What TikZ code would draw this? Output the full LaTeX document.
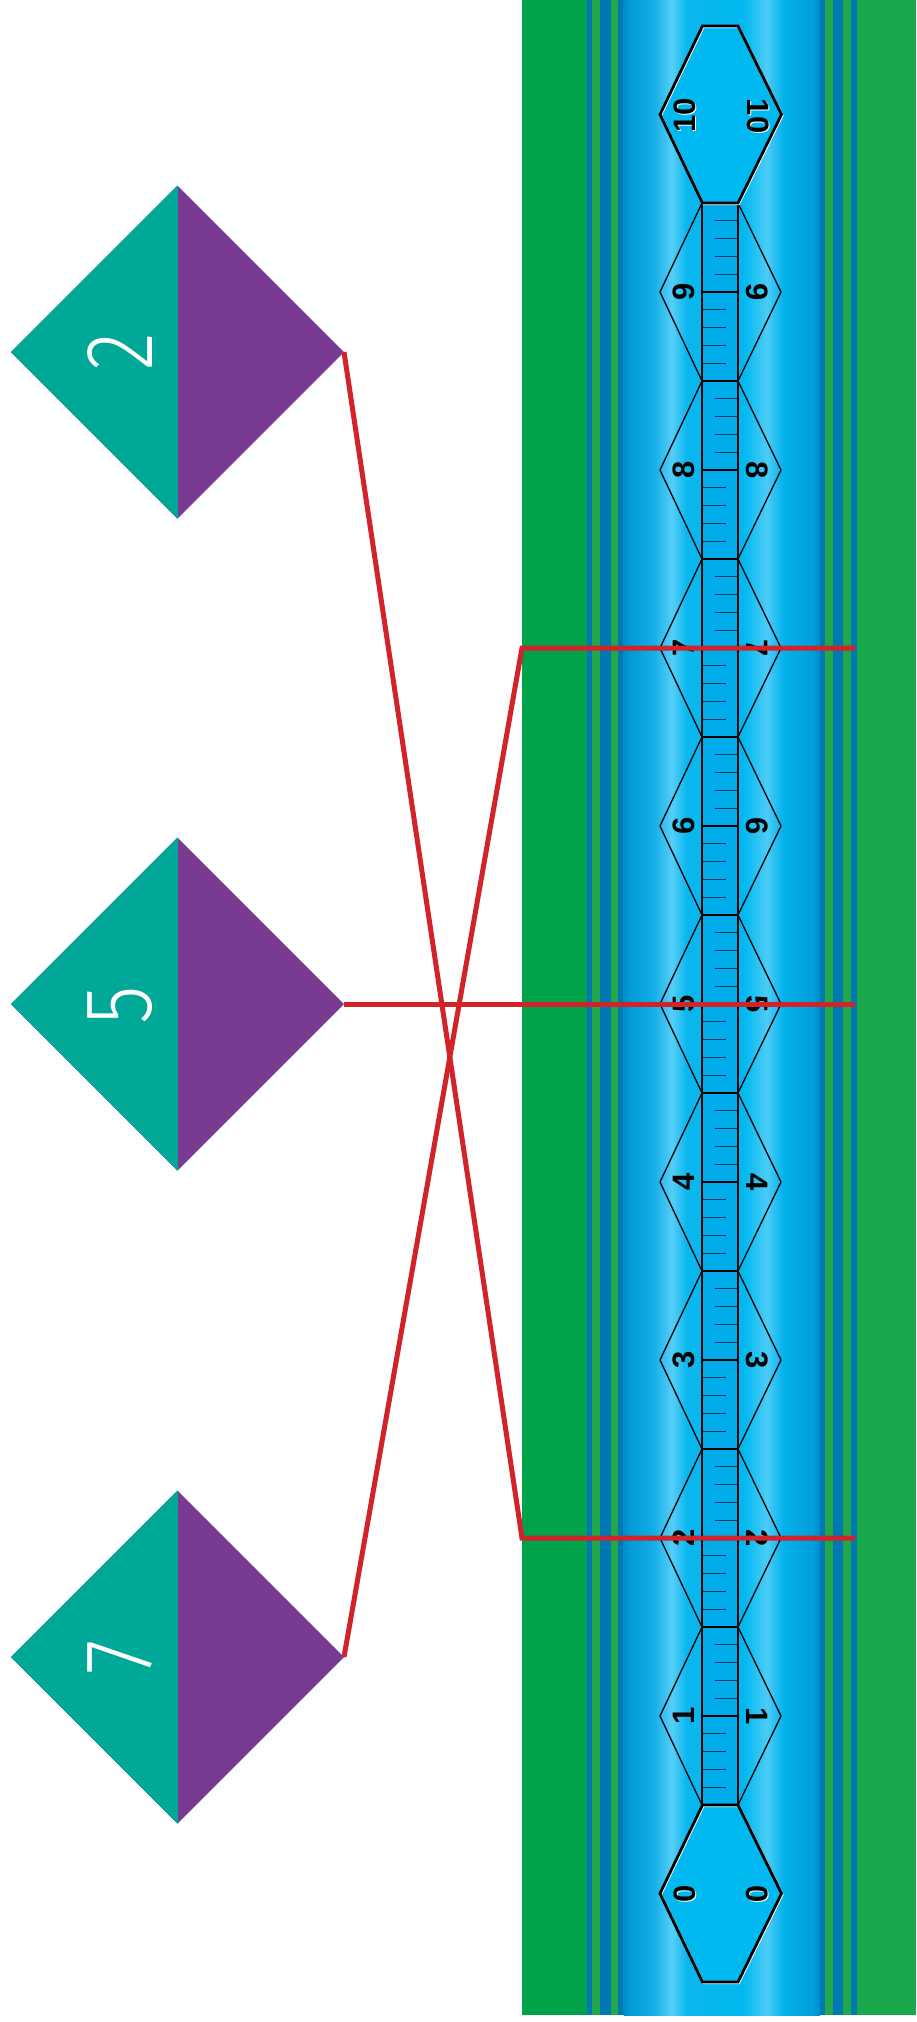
\documentclass[tikz,border=0pt]{standalone}
\usepackage{fontspec}
\setmainfont{Liberation Sans}
\newfontfamily\handfont{Fira Sans Light}
\usetikzlibrary{shapes.geometric}
\definecolor{gL}{RGB}{0,163,73}
\definecolor{gR}{RGB}{24,167,74}
\definecolor{gS}{RGB}{34,168,74}
\definecolor{bS}{RGB}{0,120,180}
\definecolor{tealc}{RGB}{0,168,152}
\definecolor{purp}{RGB}{121,59,145}
\definecolor{redl}{RGB}{210,35,42}
\definecolor{rulerfill}{RGB}{0,172,234}
\definecolor{hexfill}{RGB}{0,185,240}
\definecolor{tickc}{RGB}{15,55,85}
\definecolor{tA}{RGB}{0,139,200}
\definecolor{tB}{RGB}{0,152,214}
\definecolor{tC}{RGB}{20,174,230}
\definecolor{tD}{RGB}{85,206,247}
\definecolor{tE}{RGB}{10,183,238}
\definecolor{tF}{RGB}{0,184,240}
\definecolor{tG}{RGB}{75,204,246}
\definecolor{tH}{RGB}{5,178,236}
\definecolor{tI}{RGB}{0,158,220}
\definecolor{tJ}{RGB}{0,140,205}
\pgfdeclarehorizontalshading{tubeshade}{100bp}{color(0bp)=(tA); color(25bp)=(tA); color(26.3bp)=(tB); color(32.6bp)=(tC); color(37.3bp)=(tD); color(41bp)=(tE); color(55.5bp)=(tF); color(61.5bp)=(tG); color(65.6bp)=(tH); color(73.2bp)=(tI); color(75bp)=(tJ); color(100bp)=(tJ)}
\begin{document}
\begin{tikzpicture}[x=1pt,y=-1pt,
  redline/.style={draw=redl, line width=5pt, line join=miter},
  seglabel/.style={font=\bfseries\fontsize{31}{31}\selectfont, inner sep=0pt, text=black},
  handlabel/.style={font=\handfont\fontsize{96}{96}\selectfont, text=white, inner sep=0pt, rotate=90},
  dia/.style={diamond, draw=none, inner sep=0pt, outer sep=0pt, minimum width=333pt, minimum height=333pt, fill=purp,
    path picture={\fill[tealc] (path picture bounding box.south west) rectangle (path picture bounding box.north);}},
  minortick/.style={draw=tickc, line width=1.2pt},
  hexline/.style={draw=black, line width=1.3pt},
  endhex/.style={draw=black, line width=2.8pt, line join=miter},
  endhexhi/.style={draw=white, line width=2pt, line join=miter}
]
\useasboundingbox (0,0) rectangle (916,2022);
\fill[white] (0,0) rectangle (916,2022);
% green ground and stripes
\fill[gL] (522,0) rectangle (720,2015);
\fill[gR] (720,0) rectangle (916,2015);
\fill[bS] (587,0) rectangle (592,2015);
\fill[gS] (592,0) rectangle (600,2015);
\fill[bS] (600,0) rectangle (610.7,2015);
\fill[gS] (610.7,0) rectangle (618.3,2015);
\fill[bS] (618.3,0) rectangle (624,2015);
\fill[bS] (819,0) rectangle (825.3,2015);
\fill[gS] (825.3,0) rectangle (833.3,2015);
\fill[bS] (833.3,0) rectangle (843.3,2015);
\fill[gS] (843.3,0) rectangle (851,2015);
\fill[bS] (851,0) rectangle (856.7,2015);
% tube
\shade[shading=tubeshade] (623.5,0) rectangle (820,2015);
% ruler segments
\foreach \k in {1,...,9}{
  \pgfmathsetmacro\yc{1894-178*\k}
  \fill[rulerfill] (702,\yc-89) rectangle (738,\yc+89);
  \draw[hexline] (702,\yc-89) -- (660,\yc) -- (702,\yc+89);
  \draw[hexline] (738,\yc-89) -- (781,\yc) -- (738,\yc+89);
  \foreach \j in {1,...,4}{
    \draw[minortick] (715,\yc-17.8*\j) -- (738,\yc-17.8*\j);
    \draw[minortick] (702,\yc+17.8*\j) -- (726,\yc+17.8*\j);
  }
  \draw[line width=2pt] (702,\yc) -- (738,\yc);
  \draw[line width=1.5pt] (702,\yc-89) -- (702,\yc+89);
  \draw[line width=1.5pt] (738,\yc-89) -- (738,\yc+89);
  \draw[line width=2.5pt] (701.3,\yc-89) -- (738.7,\yc-89);
  \draw[line width=2.5pt] (701.3,\yc+89) -- (738.7,\yc+89);
  \node[seglabel, rotate=90] (L\k) at (684,\yc) {\k};
  \node[seglabel, rotate=-90] (R\k) at (757,\yc) {\k};
}
% end hexagons
\fill[hexfill] (702.5,26) -- (738,26) -- (781.5,114.5) -- (738,203) -- (702.5,203) -- (660,114.5) -- cycle;
\draw[endhexhi, shift={(1,1)}] (702.5,26) -- (738,26) -- (781.5,114.5) -- (738,203) -- (702.5,203) -- (660,114.5) -- cycle;
\draw[endhex] (702.5,26) -- (738,26) -- (781.5,114.5) -- (738,203) -- (702.5,203) -- (660,114.5) -- cycle;
\fill[hexfill] (702.5,1805) -- (738,1805) -- (781.5,1893.5) -- (738,1982) -- (702.5,1982) -- (660,1893.5) -- cycle;
\draw[endhexhi, shift={(1,1)}] (702.5,1805) -- (738,1805) -- (781.5,1893.5) -- (738,1982) -- (702.5,1982) -- (660,1893.5) -- cycle;
\draw[endhex] (702.5,1805) -- (738,1805) -- (781.5,1893.5) -- (738,1982) -- (702.5,1982) -- (660,1893.5) -- cycle;
\node[seglabel, rotate=90, text=white] (L10s) at (686,116) {10};
\node[seglabel, rotate=90] (L10) at (685,115) {10};
\node[seglabel, rotate=-90, text=white] (R10s) at (759,117) {10};
\node[seglabel, rotate=-90] (R10) at (758,116) {10};
\node[seglabel, rotate=90, text=white] (L0s) at (686,1895) {0};
\node[seglabel, rotate=90] (L0) at (685,1894) {0};
\node[seglabel, rotate=-90, text=white] (R0s) at (758.5,1895) {0};
\node[seglabel, rotate=-90] (R0) at (757.5,1894) {0};
% diamonds
\node[dia] (d2) at (177.5,352) {};
\node[dia] (d5) at (177.5,1004) {};
\node[dia] (d7) at (177.5,1657) {};
\node[handlabel] (t2) at (120,352) {\scalebox{0.82}[1]{2}};
\node[handlabel] (t5) at (120,1005) {\scalebox{0.82}[1]{5}};
\node[handlabel] (t7) at (120,1657) {\scalebox{0.82}[1]{7}};
% connectors
\coordinate (c2a) at (522,1538);
\coordinate (c2b) at (855,1538);
\coordinate (c5b) at (855,1004);
\coordinate (c7a) at (522,648);
\coordinate (c7b) at (855,648);
\draw[redline] (d2.east) -- (c2a) -- (c2b);
\draw[redline] (d5.east) -- (c5b);
\draw[redline] (d7.east) -- (c7a) -- (c7b);
\end{tikzpicture}
\end{document}
